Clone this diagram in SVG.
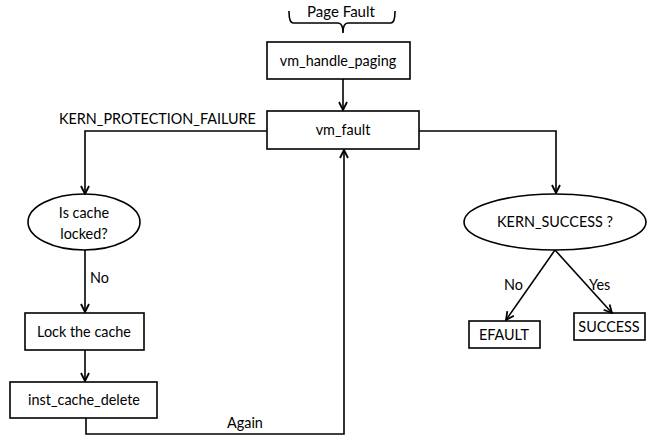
<svg xmlns="http://www.w3.org/2000/svg" width="647" height="435" viewBox="0 0 647 435">
<style>
.box{fill:#fff;stroke:#000;stroke-width:1.6}
.ln{fill:none;stroke:#000;stroke-width:1.6}
text{font-family:Lato,"Liberation Sans",sans-serif;font-size:14.4px;fill:#000}
.c{text-anchor:middle}
</style>
<defs>
<marker id="ah" viewBox="0 0 10 10" refX="9" refY="5" markerWidth="10" markerHeight="10" markerUnits="userSpaceOnUse" orient="auto">
<path d="M1,1 L9,5 L1,9" fill="none" stroke="#000" stroke-width="1.8"/>
</marker>
</defs>
<rect width="647" height="435" fill="#fff"/>
<g id="page_fault">
<path class="ln" d="M289,11 Q289,23 293,23 L338,23 Q343,23 343,33 Q343,23 348,23 L391,23 Q395,23 395,11"/>
<text class="c" x="341" y="17" style="font-size:15px">Page Fault</text>
</g>
<g id="vm_handle_paging">
<rect class="box" x="267" y="42" width="143" height="37"/>
<text class="c" x="338" y="66">vm_handle_paging</text>
</g>
<g id="vm_fault">
<rect class="box" x="267" y="111" width="152" height="38"/>
<text class="c" x="343" y="135">vm_fault</text>
</g>
<g id="is_cache_locked">
<ellipse class="box" cx="84" cy="222" rx="56" ry="28"/>
<text class="c" x="84" y="218">Is cache</text>
<text class="c" x="84" y="239">locked?</text>
</g>
<g id="lock_cache">
<rect class="box" x="25" y="313" width="119" height="37"/>
<text class="c" x="84" y="337">Lock the cache</text>
</g>
<g id="inst_cache_delete">
<rect class="box" x="10" y="382" width="147" height="36"/>
<text class="c" x="84" y="405">inst_cache_delete</text>
</g>
<g id="kern_success">
<ellipse class="box" cx="555" cy="222" rx="91" ry="28"/>
<text class="c" x="555" y="227">KERN_SUCCESS ?</text>
</g>
<g id="efault">
<rect class="box" x="469" y="321" width="71" height="27"/>
<text class="c" x="504" y="340">EFAULT</text>
</g>
<g id="success">
<rect class="box" x="574" y="313" width="71" height="27"/>
<text class="c" x="609" y="332">SUCCESS</text>
</g>
<g id="connectors">
<path class="ln" d="M343,79 L343,110" marker-end="url(#ah)"/>
<path class="ln" d="M267,131 L85,131 L85,194" marker-end="url(#ah)"/>
<text x="59" y="124">KERN_PROTECTION_FAILURE</text>
<path class="ln" d="M85,250 L85,312" marker-end="url(#ah)"/>
<text x="90" y="283">No</text>
<path class="ln" d="M85,350 L85,381" marker-end="url(#ah)"/>
<path class="ln" d="M86,418 L86,434 L344,434 L344,150" marker-end="url(#ah)"/>
<text x="227" y="428">Again</text>
<path class="ln" d="M419,131 L556,131 L556,193" marker-end="url(#ah)"/>
<path class="ln" d="M555,250 L506,320" marker-end="url(#ah)"/>
<path class="ln" d="M555,250 L612,313" marker-end="url(#ah)"/>
<text x="504" y="290">No</text>
<text x="589" y="290">Yes</text>
</g>
</svg>
